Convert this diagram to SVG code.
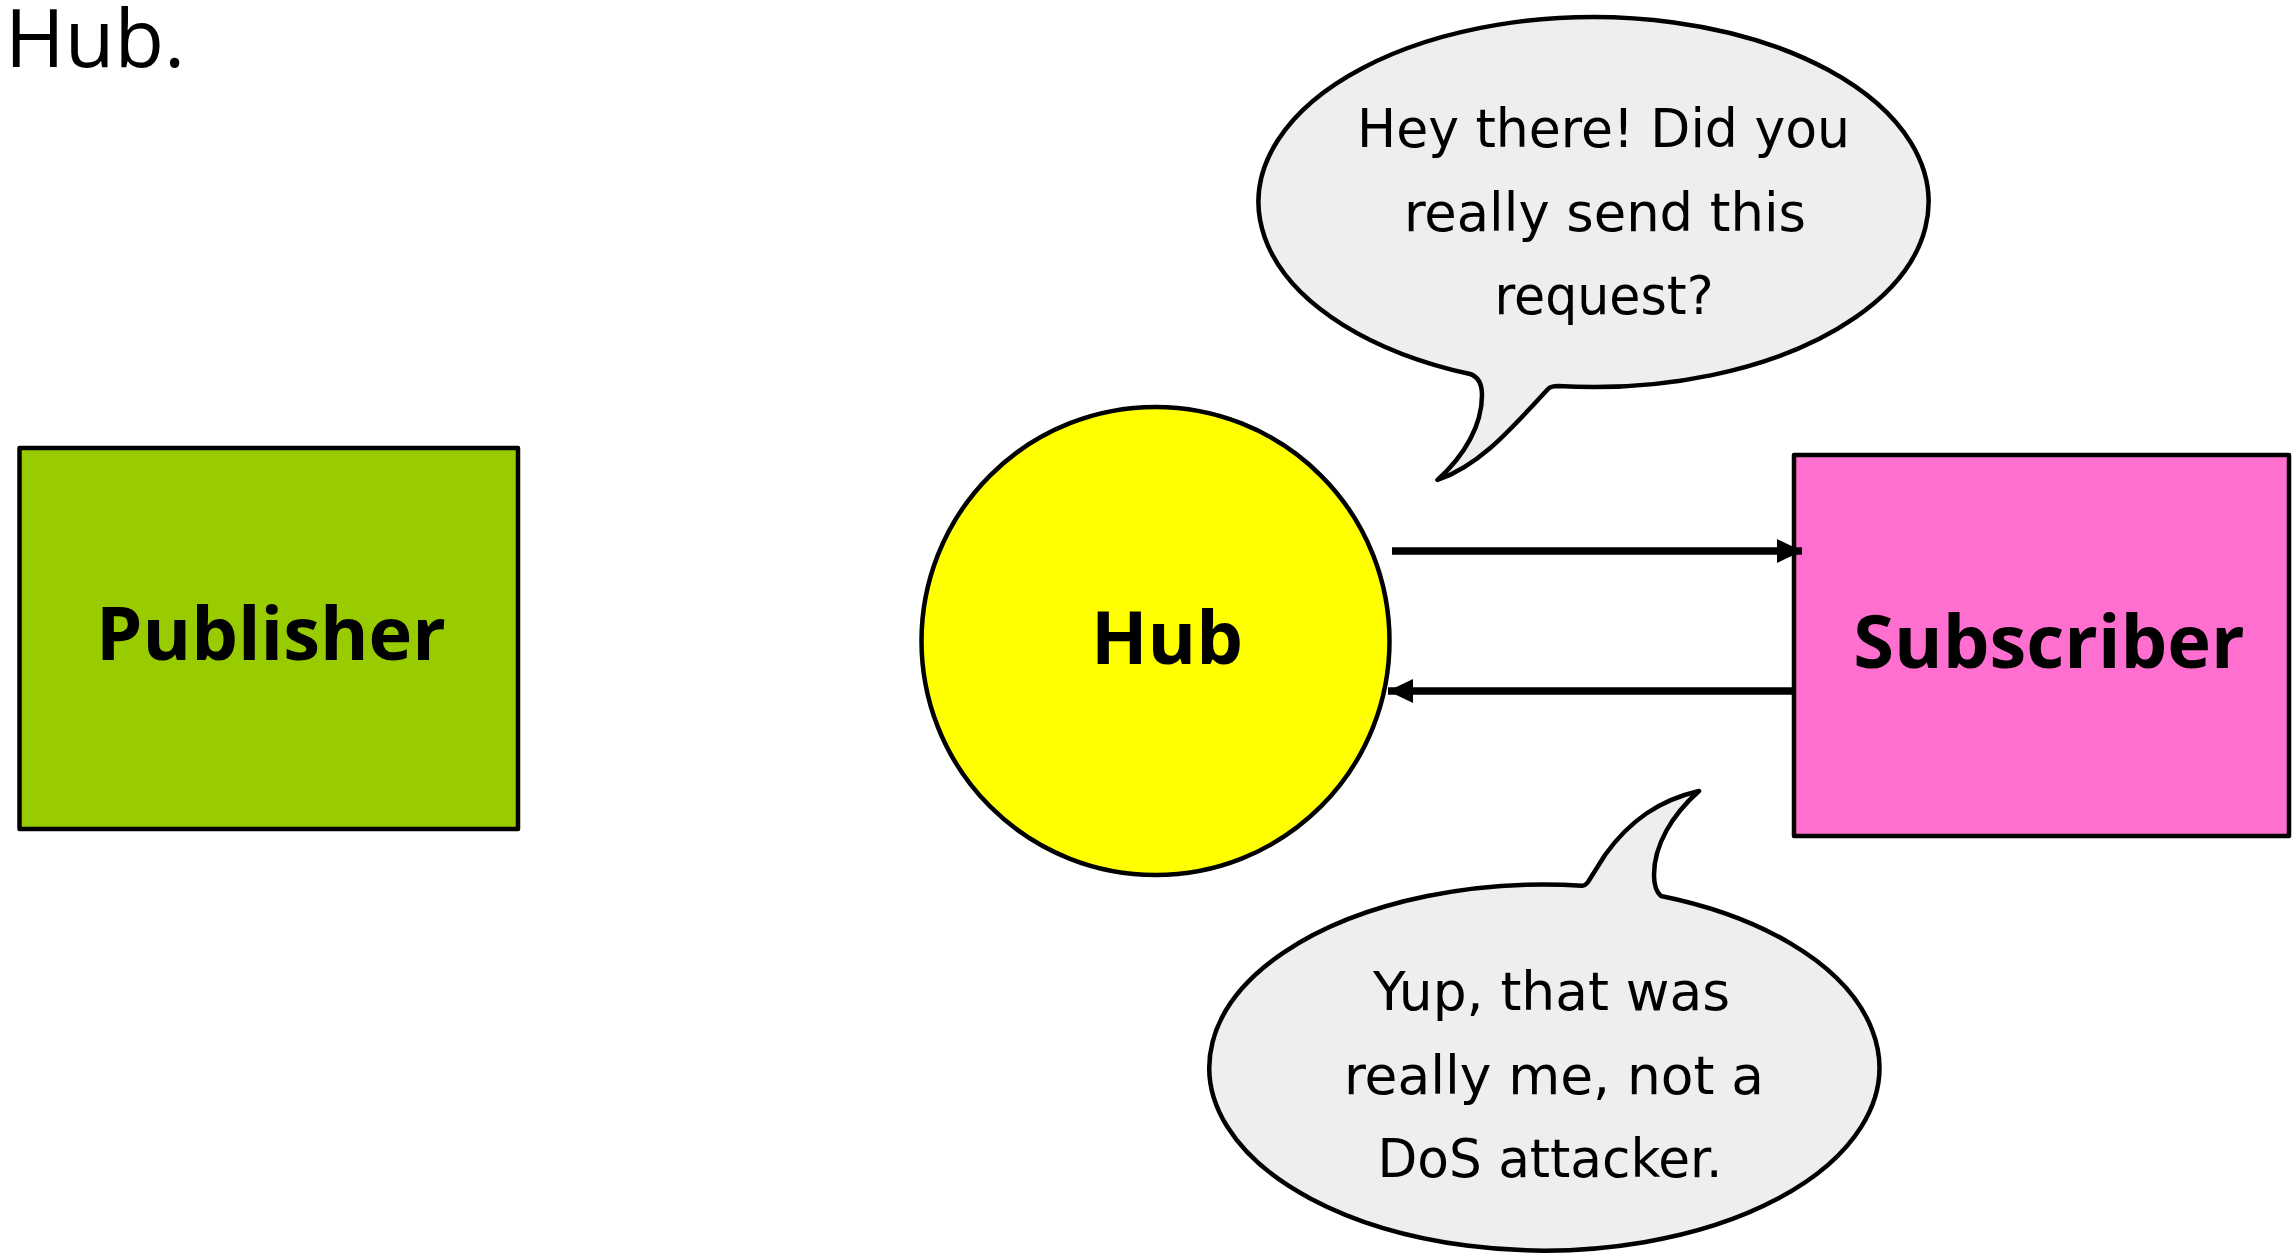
<svg xmlns="http://www.w3.org/2000/svg" width="2293" height="1253" viewBox="0 0 2293 1253">
  <defs>
    <style>
      .node { stroke: #000; stroke-width: 4.5; stroke-linejoin: round; }
      .bubble { fill: #eeeeee; stroke: #000; stroke-width: 4.5; stroke-linejoin: round; }
      .label { font-family: "Open Sans", "Noto Sans", "DejaVu Sans", sans-serif; font-weight: bold; font-size: 74px; fill: #000; text-anchor: middle; }
      .talk { font-family: "DejaVu Sans Condensed", "Liberation Sans Narrow", "Liberation Sans", sans-serif; font-size: 53px; fill: #000; text-anchor: middle; }
      .title { font-family: "Open Sans", "Noto Sans", "DejaVu Sans", sans-serif; font-size: 81px; fill: #000; }
      .link { stroke: #000; stroke-width: 7.5; fill: none; }
    </style>
    <marker id="arrow" markerUnits="userSpaceOnUse" markerWidth="26" markerHeight="24" refX="25" refY="12" orient="auto">
      <path d="M0,0 L25,12 L0,24 Z" fill="#000"/>
    </marker>
  </defs>

  <rect width="2293" height="1253" fill="#ffffff"/>

  <text class="title" x="5" y="67">Hub.</text>

  <g id="publisher">
    <rect class="node" x="19.5" y="448" width="498.5" height="381" fill="#99cc00"/>
    <text class="label" x="271" y="660">Publisher</text>
  </g>

  <g id="hub">
    <circle class="node" cx="1155.5" cy="641" r="234" fill="#ffff00"/>
    <text class="label" x="1167" y="664">Hub</text>
  </g>

  <g id="subscriber">
    <rect class="node" x="1794" y="455" width="495" height="381" fill="#ff6fcf"/>
    <text class="label" x="2049" y="668">Subscriber</text>
  </g>

  <g id="connectors">
    <line class="link" x1="1392" y1="551" x2="1802" y2="551" marker-end="url(#arrow)"/>
    <line class="link" x1="1793" y1="691" x2="1388" y2="691" marker-end="url(#arrow)"/>
  </g>

  <!-- speech bubble above the hub-to-subscriber arrow -->
  <g id="bubble-question">
    <path class="bubble" d="M1558,386 A335,185 0 1 0 1470,374 Q1482,378 1482,395 C1482,425 1465,455 1437.5,480 C1480,465 1510,430 1548,389 Q1551,386 1558,386 Z"/>
    <text class="talk" x="1603.5" y="147" textLength="493" lengthAdjust="spacingAndGlyphs">Hey there! Did you</text>
    <text class="talk" x="1605" y="231" textLength="402" lengthAdjust="spacingAndGlyphs">really send this</text>
    <text class="talk" x="1604" y="314" textLength="219" lengthAdjust="spacingAndGlyphs">request?</text>
  </g>

  <!-- speech bubble below the subscriber-to-hub arrow -->
  <g id="bubble-answer">
    <path class="bubble" d="M1582,885.7 A335,183 0 1 0 1661,896 Q1654,890 1654,875 C1654,845 1672,815 1699,791 C1660,800 1630,820 1605,855 L1588,882 Q1585,886 1582,885.7 Z"/>
    <text class="talk" x="1551.5" y="1010" textLength="357" lengthAdjust="spacingAndGlyphs">Yup, that was</text>
    <text class="talk" x="1554" y="1094" textLength="420" lengthAdjust="spacingAndGlyphs">really me, not a</text>
    <text class="talk" x="1550" y="1177" textLength="345" lengthAdjust="spacingAndGlyphs">DoS attacker.</text>
  </g>
</svg>
